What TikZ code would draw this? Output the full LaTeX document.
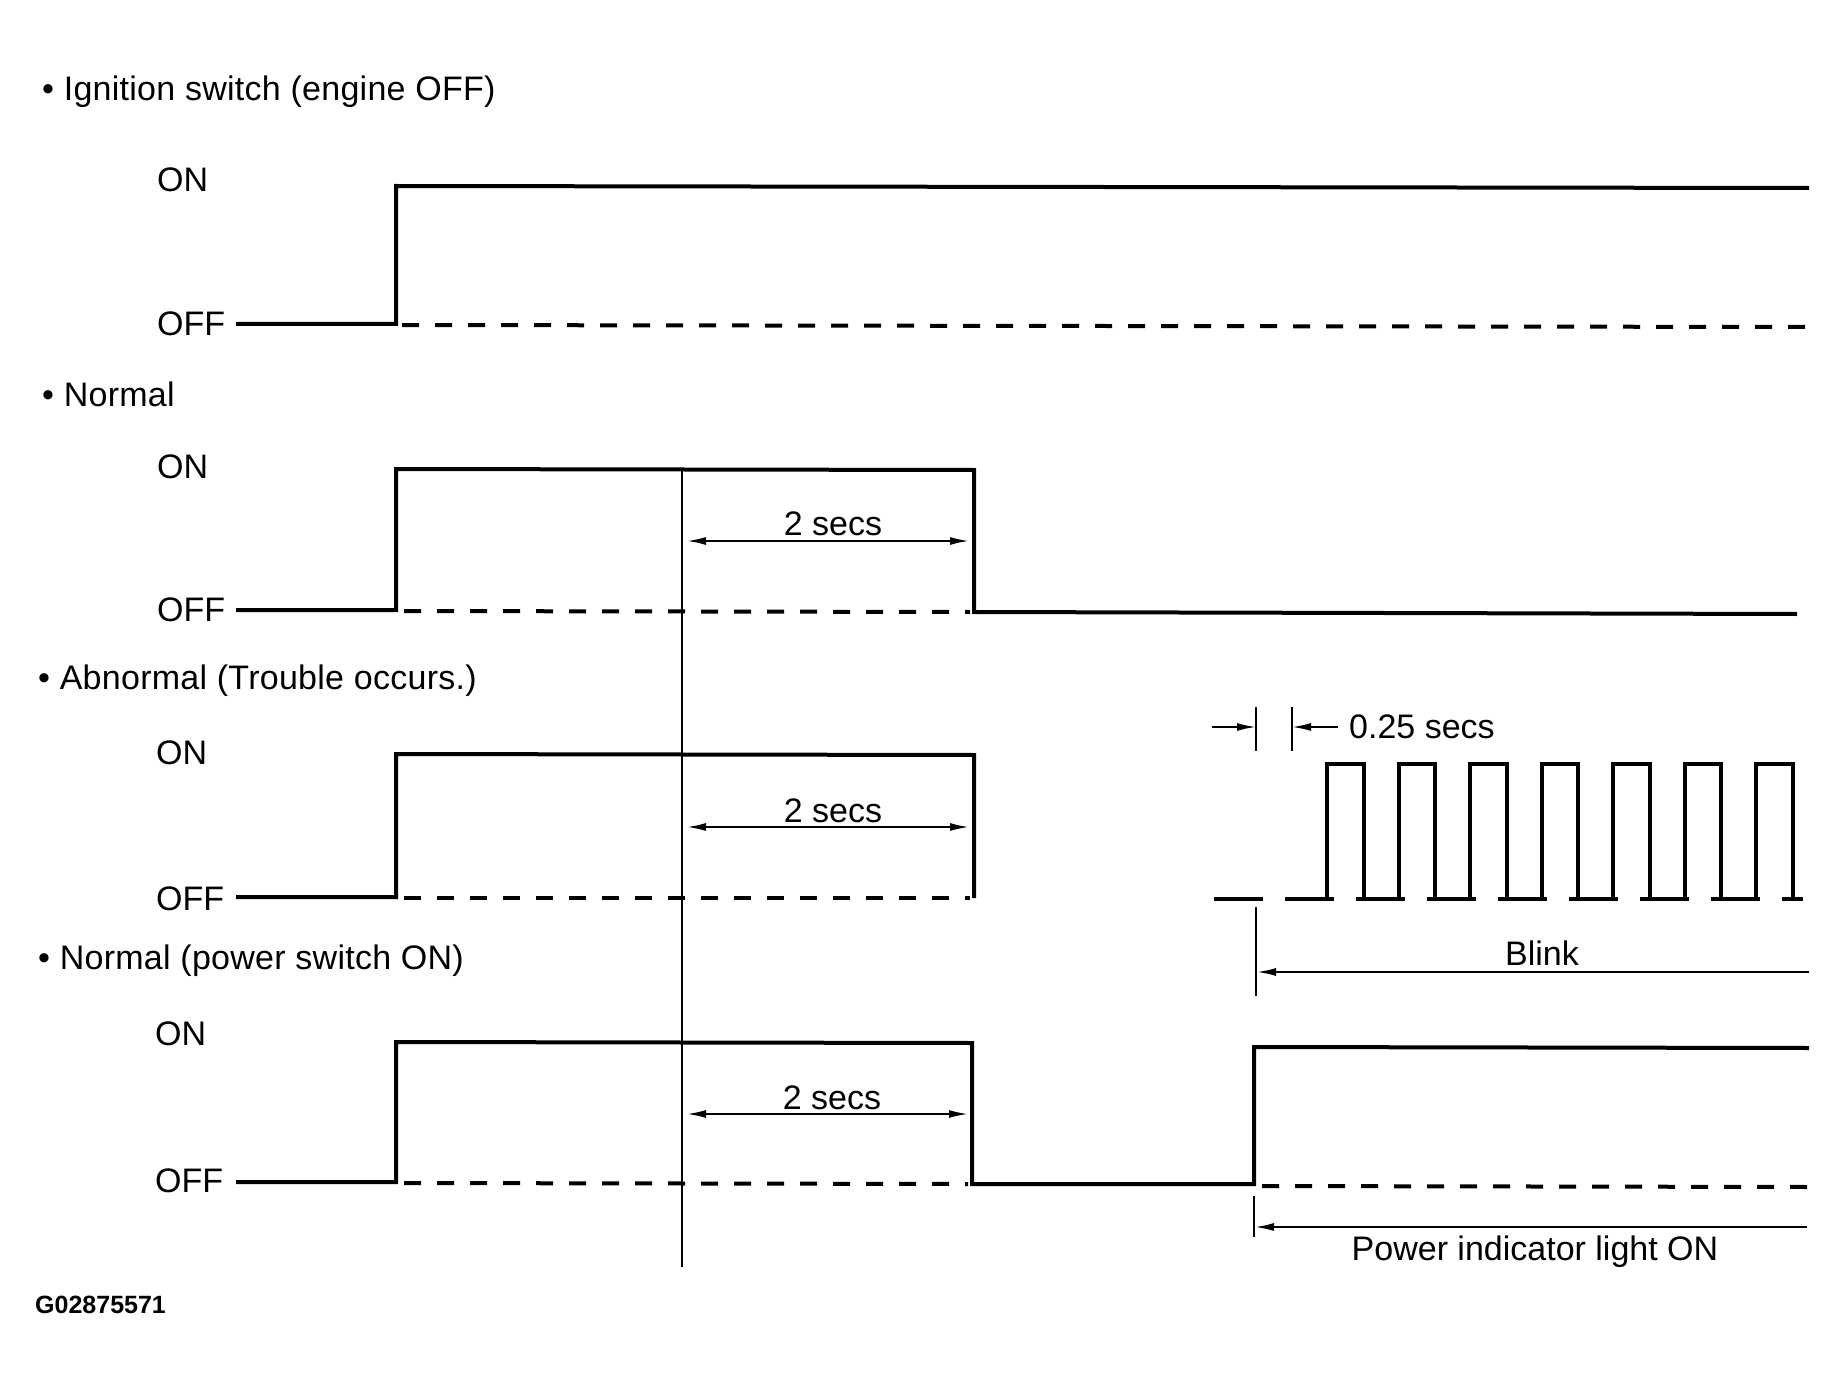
\documentclass[tikz,border=0pt]{standalone}
\usepackage{fontspec}
\setmainfont{Liberation Sans}
\usetikzlibrary{arrows.meta}
\begin{document}
\begin{tikzpicture}[x=1pt,y=-1pt,
  sig/.style={line width=4pt, line join=miter, line cap=butt},
  dsh/.style={line width=4pt, dash pattern=on 17pt off 16pt},
  thinln/.style={line width=1.8pt},
  dimarrow/.style={line width=1.9pt, -{Latex[length=19pt,width=8pt]}},
  dimboth/.style={line width=1.9pt, {Latex[length=19pt,width=8pt]}-{Latex[length=19pt,width=8pt]}},
  lbl/.style={font=\fontsize{34}{40}\selectfont, inner sep=0pt},
  ttl/.style={lbl, anchor=west},
  head/.style={font=\fontsize{34}{40}\selectfont\addfontfeature{LetterSpace=0.8}, inner sep=0pt, anchor=west},
]
\useasboundingbox (0,0) rectangle (1848,1388);
\fill[white] (0,0) rectangle (1848,1388);

% titles
\node[head] (t1) at (42,92) {• Ignition switch (engine OFF)};
\node[head] (t2) at (42,394) {• Normal};
\node[head] (t3) at (38,681) {• Abnormal (Trouble occurs.)};
\node[head] (t4) at (38,961) {• Normal (power switch ON)};

% ON / OFF labels
\node[ttl] (on1) at (157,180) {ON};
\node[ttl] (off1) at (157,324) {OFF};
\node[ttl] (on2) at (157,467) {ON};
\node[ttl] (off2) at (157,610) {OFF};
\node[ttl] (on3) at (156,753) {ON};
\node[ttl] (off3) at (156,899) {OFF};
\node[ttl] (on4) at (155,1034) {ON};
\node[ttl] (off4) at (155,1181) {OFF};

% signal 1
\draw[sig] (236,324) -- (396,324) -- (396,186) -- (1809,188);
\draw[dsh] (402,325) -- (1809,327);

% signal 2
\draw[sig] (236,610) -- (396,610) -- (396,469) -- (974,470) -- (974,612) -- (1797,614);
\draw[dsh] (404,611) -- (970,612);

% signal 3
\draw[sig] (236,897) -- (396,897) -- (396,754) -- (974,755) -- (974,898);
\draw[dsh] (404,898) -- (970,898);

% signal 4
\draw[sig] (236,1182) -- (396,1182) -- (396,1042) -- (972,1043) -- (972,1184) -- (1254,1184) -- (1254,1047) -- (1809,1048);
\draw[dsh] (404,1183) -- (968,1184);
\draw[dsh] (1262,1186) -- (1809,1187);

% reference vertical line
\coordinate (vtop) at (682,469);
\coordinate (vbot) at (682,1267);
\draw[thinln] (vtop) -- (vbot);

% 2 secs dimensions
\coordinate (a2l) at (687,541); \coordinate (a2r) at (969,541);
\draw[dimboth] (a2l) -- (a2r);
\node[lbl] (s2) at (833,524) {2 secs};
\coordinate (a3l) at (687,827); \coordinate (a3r) at (969,827);
\draw[dimboth] (a3l) -- (a3r);
\node[lbl] (s3) at (833,811) {2 secs};
\coordinate (a4l) at (687,1114); \coordinate (a4r) at (968,1114);
\draw[dimboth] (a4l) -- (a4r);
\node[lbl] (s4) at (832,1098) {2 secs};

% 0.25 secs
\coordinate (k1t) at (1256,707); \coordinate (k1b) at (1256,751);
\coordinate (k2t) at (1292,707); \coordinate (k2b) at (1292,751);
\draw[thinln] (k1t) -- (k1b);
\draw[thinln] (k2t) -- (k2b);
\coordinate (q1) at (1212,727); \coordinate (q1e) at (1256,727);
\coordinate (q2) at (1338,727); \coordinate (q2e) at (1292,727);
\draw[dimarrow] (q1) -- (q1e);
\draw[dimarrow] (q2) -- (q2e);
\node[lbl, anchor=west] (q) at (1349,727) {0.25 secs};

% blink waveform
\draw[sig] (1287,899) foreach \k in {0,...,6} {
  -- ({1327+71.5*\k},899) -- ({1327+71.5*\k},764) -- ({1363.5+71.5*\k},764) -- ({1363.5+71.5*\k},899) } -- (1803,899);
\draw[line width=4pt, dash pattern=on 49pt off 22pt] (1214,899) -- (1803,899);

% blink arrow
\coordinate (bt) at (1256,907); \coordinate (bb) at (1256,996);
\draw[thinln] (bt) -- (bb);
\coordinate (br) at (1809,972); \coordinate (bl) at (1257,972);
\draw[dimarrow] (br) -- (bl);
\node[lbl] (blink) at (1542,953) {Blink};

% power indicator arrow
\coordinate (pt) at (1254,1196); \coordinate (pb) at (1254,1237);
\draw[thinln] (pt) -- (pb);
\coordinate (pr) at (1807,1227); \coordinate (pl) at (1255,1227);
\draw[dimarrow] (pr) -- (pl);
\node[lbl] (pw) at (1535,1252) {Power indicator light ON};

% figure id
\node[font=\fontsize{25}{30}\selectfont\bfseries, anchor=west, inner sep=0pt] (gid) at (35,1305) {G02875571};
\end{tikzpicture}
\end{document}
